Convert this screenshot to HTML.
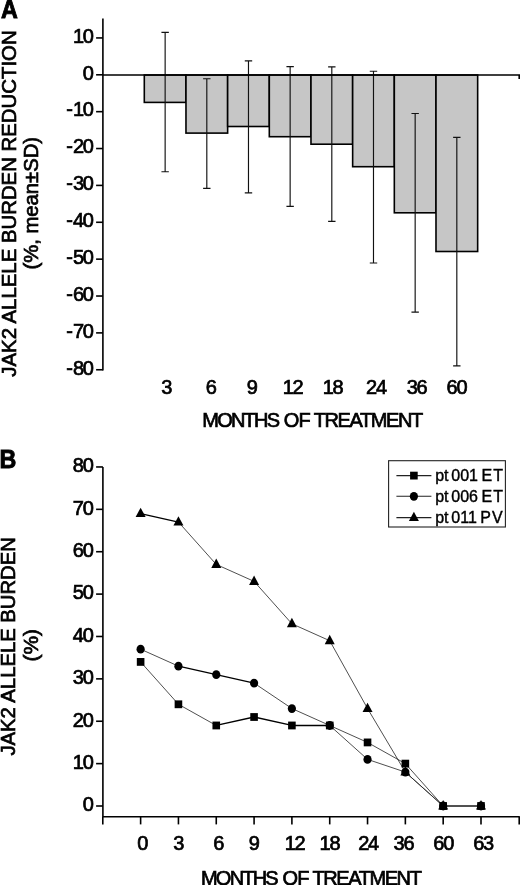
<!DOCTYPE html>
<html><head><meta charset="utf-8"><style>
html,body{margin:0;padding:0;background:#fff;}
svg{display:block;will-change:transform;transform:translateZ(0)}
text{font-family:"Liberation Sans",sans-serif;fill:#000;font-size:20px;stroke:#000;stroke-width:0.7px}
.n{letter-spacing:-1.2px}
.h{letter-spacing:0}
.lg{font-size:16px;word-spacing:-1.7px;stroke-width:0.4px}
.big{font-size:26.5px;font-weight:bold;stroke-width:0.9px}
</style></head><body>
<svg width="520" height="885" viewBox="0 0 520 885">
<rect width="520" height="885" fill="#fff"/>

<text class="big" transform="translate(0.9,17.5) scale(0.88,1)">A</text>
<text class="big" transform="translate(-0.5,467.7) scale(0.88,1)">B</text>
<rect x="144.30" y="75.00" width="41.67" height="27.40" fill="#c6c6c6" stroke="#000" stroke-width="1.6"/>
<rect x="185.97" y="75.00" width="41.67" height="58.10" fill="#c6c6c6" stroke="#000" stroke-width="1.6"/>
<rect x="227.64" y="75.00" width="41.67" height="51.50" fill="#c6c6c6" stroke="#000" stroke-width="1.6"/>
<rect x="269.31" y="75.00" width="41.67" height="61.70" fill="#c6c6c6" stroke="#000" stroke-width="1.6"/>
<rect x="310.98" y="75.00" width="41.67" height="69.20" fill="#c6c6c6" stroke="#000" stroke-width="1.6"/>
<rect x="352.65" y="75.00" width="41.67" height="91.70" fill="#c6c6c6" stroke="#000" stroke-width="1.6"/>
<rect x="394.32" y="75.00" width="41.67" height="137.80" fill="#c6c6c6" stroke="#000" stroke-width="1.6"/>
<rect x="435.99" y="75.00" width="41.67" height="176.50" fill="#c6c6c6" stroke="#000" stroke-width="1.6"/>
<path d="M165.14 32.40V171.70M161.44 32.40h7.4M161.44 171.70h7.4" stroke="#111" stroke-width="1.15" fill="none"/>
<path d="M206.81 78.70V188.40M203.11 78.70h7.4M203.11 188.40h7.4" stroke="#111" stroke-width="1.15" fill="none"/>
<path d="M248.48 60.80V192.90M244.78 60.80h7.4M244.78 192.90h7.4" stroke="#111" stroke-width="1.15" fill="none"/>
<path d="M290.14 66.60V206.30M286.44 66.60h7.4M286.44 206.30h7.4" stroke="#111" stroke-width="1.15" fill="none"/>
<path d="M331.81 66.90V221.40M328.12 66.90h7.4M328.12 221.40h7.4" stroke="#111" stroke-width="1.15" fill="none"/>
<path d="M373.49 71.20V263.00M369.79 71.20h7.4M369.79 263.00h7.4" stroke="#111" stroke-width="1.15" fill="none"/>
<path d="M415.16 113.50V312.10M411.46 113.50h7.4M411.46 312.10h7.4" stroke="#111" stroke-width="1.15" fill="none"/>
<path d="M456.82 137.30V365.80M453.12 137.30h7.4M453.12 365.80h7.4" stroke="#111" stroke-width="1.15" fill="none"/>
<path d="M102.9 18.6V370.4M102.9 75.00H519.2v4" stroke="#000" stroke-width="1.6" fill="none"/>
<path d="M96.1 369.76H102.9" stroke="#000" stroke-width="1.6"/>
<text class="n" x="92.8" y="374.56" text-anchor="end"><tspan class="h">-</tspan>80</text>
<path d="M96.1 332.89H102.9" stroke="#000" stroke-width="1.6"/>
<text class="n" x="92.8" y="337.69" text-anchor="end"><tspan class="h">-</tspan>70</text>
<path d="M96.1 296.02H102.9" stroke="#000" stroke-width="1.6"/>
<text class="n" x="92.8" y="300.82" text-anchor="end"><tspan class="h">-</tspan>60</text>
<path d="M96.1 259.15H102.9" stroke="#000" stroke-width="1.6"/>
<text class="n" x="92.8" y="263.95" text-anchor="end"><tspan class="h">-</tspan>50</text>
<path d="M96.1 222.28H102.9" stroke="#000" stroke-width="1.6"/>
<text class="n" x="92.8" y="227.08" text-anchor="end"><tspan class="h">-</tspan>40</text>
<path d="M96.1 185.41H102.9" stroke="#000" stroke-width="1.6"/>
<text class="n" x="92.8" y="190.21" text-anchor="end"><tspan class="h">-</tspan>30</text>
<path d="M96.1 148.54H102.9" stroke="#000" stroke-width="1.6"/>
<text class="n" x="92.8" y="153.34" text-anchor="end"><tspan class="h">-</tspan>20</text>
<path d="M96.1 111.67H102.9" stroke="#000" stroke-width="1.6"/>
<text class="n" x="92.8" y="116.47" text-anchor="end"><tspan class="h">-</tspan>10</text>
<path d="M96.1 74.80H102.9" stroke="#000" stroke-width="1.6"/>
<text class="n" x="92.8" y="79.60" text-anchor="end">0</text>
<path d="M96.1 37.93H102.9" stroke="#000" stroke-width="1.6"/>
<text class="n" x="92.8" y="42.73" text-anchor="end">10</text>
<text class="n" x="166.20" y="393.8" text-anchor="middle">3</text>
<text class="n" x="210.60" y="393.8" text-anchor="middle">6</text>
<text class="n" x="251.60" y="393.8" text-anchor="middle">9</text>
<text class="n" x="292.60" y="393.8" text-anchor="middle">12</text>
<text class="n" x="332.60" y="393.8" text-anchor="middle">18</text>
<text class="n" x="376.00" y="393.8" text-anchor="middle">24</text>
<text class="n" x="416.60" y="393.8" text-anchor="middle">36</text>
<text class="n" x="456.40" y="393.8" text-anchor="middle">60</text>
<text x="202.30" y="426.5" textLength="77.7" lengthAdjust="spacing">MONTHS</text>
<text x="283.80" y="426.5" textLength="26.9" lengthAdjust="spacing">OF</text>
<text x="313.75" y="426.5" textLength="109.4" lengthAdjust="spacing">TREATMENT</text>
<text transform="translate(15.8,376.7) rotate(-90)" textLength="346.3" lengthAdjust="spacingAndGlyphs">JAK2 ALLELE BURDEN REDUCTION</text>
<text transform="translate(38.3,269.6) rotate(-90)" textLength="132.7" lengthAdjust="spacingAndGlyphs">(%, mean±SD)</text>
<path d="M102.9 466.9V816.7M102.1 816.7H519.8" stroke="#000" stroke-width="1.6" fill="none"/>
<path d="M96.1 806.00H102.9" stroke="#000" stroke-width="1.6"/>
<text class="n" x="92.6" y="811.30" text-anchor="end">0</text>
<path d="M96.1 763.62H102.9" stroke="#000" stroke-width="1.6"/>
<text class="n" x="92.6" y="768.92" text-anchor="end">10</text>
<path d="M96.1 721.24H102.9" stroke="#000" stroke-width="1.6"/>
<text class="n" x="92.6" y="726.54" text-anchor="end">20</text>
<path d="M96.1 678.86H102.9" stroke="#000" stroke-width="1.6"/>
<text class="n" x="92.6" y="684.16" text-anchor="end">30</text>
<path d="M96.1 636.48H102.9" stroke="#000" stroke-width="1.6"/>
<text class="n" x="92.6" y="641.78" text-anchor="end">40</text>
<path d="M96.1 594.10H102.9" stroke="#000" stroke-width="1.6"/>
<text class="n" x="92.6" y="599.40" text-anchor="end">50</text>
<path d="M96.1 551.72H102.9" stroke="#000" stroke-width="1.6"/>
<text class="n" x="92.6" y="557.02" text-anchor="end">60</text>
<path d="M96.1 509.34H102.9" stroke="#000" stroke-width="1.6"/>
<text class="n" x="92.6" y="514.64" text-anchor="end">70</text>
<path d="M96.1 466.96H102.9" stroke="#000" stroke-width="1.6"/>
<text class="n" x="92.6" y="472.26" text-anchor="end">80</text>
<path d="M102.80 816.7V824.4" stroke="#000" stroke-width="1.6"/>
<path d="M140.62 816.7V824.4" stroke="#000" stroke-width="1.6"/>
<path d="M178.44 816.7V824.4" stroke="#000" stroke-width="1.6"/>
<path d="M216.26 816.7V824.4" stroke="#000" stroke-width="1.6"/>
<path d="M254.08 816.7V824.4" stroke="#000" stroke-width="1.6"/>
<path d="M291.90 816.7V824.4" stroke="#000" stroke-width="1.6"/>
<path d="M329.72 816.7V824.4" stroke="#000" stroke-width="1.6"/>
<path d="M367.54 816.7V824.4" stroke="#000" stroke-width="1.6"/>
<path d="M405.36 816.7V824.4" stroke="#000" stroke-width="1.6"/>
<path d="M443.18 816.7V824.4" stroke="#000" stroke-width="1.6"/>
<path d="M481.00 816.7V824.4" stroke="#000" stroke-width="1.6"/>
<path d="M519.20 816.7V824.4" stroke="#000" stroke-width="1.6"/>
<text class="n" x="142.30" y="850.2" text-anchor="middle">0</text>
<text class="n" x="178.30" y="850.2" text-anchor="middle">3</text>
<text class="n" x="218.20" y="850.2" text-anchor="middle">6</text>
<text class="n" x="253.70" y="850.2" text-anchor="middle">9</text>
<text class="n" x="294.60" y="850.2" text-anchor="middle">12</text>
<text class="n" x="329.40" y="850.2" text-anchor="middle">18</text>
<text class="n" x="368.10" y="850.2" text-anchor="middle">24</text>
<text class="n" x="403.50" y="850.2" text-anchor="middle">36</text>
<text class="n" x="443.20" y="850.2" text-anchor="middle">60</text>
<text class="n" x="483.10" y="850.2" text-anchor="middle">63</text>
<text x="201.00" y="885" textLength="77.7" lengthAdjust="spacing">MONTHS</text>
<text x="282.50" y="885" textLength="26.9" lengthAdjust="spacing">OF</text>
<text x="312.45" y="885" textLength="109.4" lengthAdjust="spacing">TREATMENT</text>
<text transform="translate(15.4,755.6) rotate(-90)" textLength="218.5" lengthAdjust="spacingAndGlyphs">JAK2 ALLELE BURDEN</text>
<text transform="translate(38,661.6) rotate(-90)" textLength="32.6" lengthAdjust="spacingAndGlyphs">(%)</text>
<path d="M140.62 661.91L178.44 704.29" stroke="#222" stroke-width="0.8"/>
<path d="M178.44 704.29L216.26 725.48" stroke="#222" stroke-width="0.8"/>
<path d="M216.26 725.48L254.08 717.00" stroke="#000" stroke-width="1.3"/>
<path d="M254.08 717.00L291.90 725.48" stroke="#000" stroke-width="1.3"/>
<path d="M291.90 725.48L329.72 725.48" stroke="#000" stroke-width="1.3"/>
<path d="M329.72 725.48L367.54 742.43" stroke="#222" stroke-width="0.8"/>
<path d="M367.54 742.43L405.36 763.62" stroke="#222" stroke-width="0.8"/>
<path d="M405.36 763.62L443.18 806.00" stroke="#222" stroke-width="0.8"/>
<path d="M443.18 806.00L481.00 806.00" stroke="#222" stroke-width="0.8"/>
<path d="M140.62 649.19L178.44 666.15" stroke="#222" stroke-width="0.8"/>
<path d="M178.44 666.15L216.26 674.62" stroke="#000" stroke-width="1.3"/>
<path d="M216.26 674.62L254.08 683.10" stroke="#000" stroke-width="1.3"/>
<path d="M254.08 683.10L291.90 708.53" stroke="#222" stroke-width="0.8"/>
<path d="M291.90 708.53L329.72 725.48" stroke="#222" stroke-width="0.8"/>
<path d="M329.72 725.48L367.54 759.38" stroke="#222" stroke-width="0.8"/>
<path d="M367.54 759.38L405.36 772.10" stroke="#222" stroke-width="0.8"/>
<path d="M405.36 772.10L443.18 806.00" stroke="#222" stroke-width="0.8"/>
<path d="M443.18 806.00L481.00 806.00" stroke="#222" stroke-width="0.8"/>
<path d="M140.62 513.58L178.44 522.05" stroke="#000" stroke-width="1.3"/>
<path d="M178.44 522.05L216.26 564.43" stroke="#222" stroke-width="0.8"/>
<path d="M216.26 564.43L254.08 581.39" stroke="#222" stroke-width="0.8"/>
<path d="M254.08 581.39L291.90 623.77" stroke="#222" stroke-width="0.8"/>
<path d="M291.90 623.77L329.72 640.72" stroke="#222" stroke-width="0.8"/>
<path d="M329.72 640.72L367.54 708.53" stroke="#222" stroke-width="0.8"/>
<path d="M367.54 708.53L405.36 772.10" stroke="#222" stroke-width="0.8"/>
<path d="M405.36 772.10L443.18 806.00" stroke="#222" stroke-width="0.8"/>
<path d="M443.18 806.00L481.00 806.00" stroke="#222" stroke-width="0.8"/>
<rect x="136.82" y="658.01" width="7.6" height="7.8" fill="#000"/>
<rect x="174.64" y="700.39" width="7.6" height="7.8" fill="#000"/>
<rect x="212.46" y="721.58" width="7.6" height="7.8" fill="#000"/>
<rect x="250.28" y="713.10" width="7.6" height="7.8" fill="#000"/>
<rect x="288.10" y="721.58" width="7.6" height="7.8" fill="#000"/>
<rect x="325.92" y="721.58" width="7.6" height="7.8" fill="#000"/>
<rect x="363.74" y="738.53" width="7.6" height="7.8" fill="#000"/>
<rect x="401.56" y="759.72" width="7.6" height="7.8" fill="#000"/>
<rect x="439.38" y="802.10" width="7.6" height="7.8" fill="#000"/>
<rect x="477.20" y="802.10" width="7.6" height="7.8" fill="#000"/>
<ellipse cx="140.62" cy="649.19" rx="4.1" ry="4.4" fill="#000"/>
<ellipse cx="178.44" cy="666.15" rx="4.1" ry="4.4" fill="#000"/>
<ellipse cx="216.26" cy="674.62" rx="4.1" ry="4.4" fill="#000"/>
<ellipse cx="254.08" cy="683.10" rx="4.1" ry="4.4" fill="#000"/>
<ellipse cx="291.90" cy="708.53" rx="4.1" ry="4.4" fill="#000"/>
<ellipse cx="329.72" cy="725.48" rx="4.1" ry="4.4" fill="#000"/>
<ellipse cx="367.54" cy="759.38" rx="4.1" ry="4.4" fill="#000"/>
<ellipse cx="405.36" cy="772.10" rx="4.1" ry="4.4" fill="#000"/>
<ellipse cx="443.18" cy="806.00" rx="4.1" ry="4.4" fill="#000"/>
<ellipse cx="481.00" cy="806.00" rx="4.1" ry="4.4" fill="#000"/>
<path d="M140.62 507.68L145.62 517.08H135.62Z" fill="#000"/>
<path d="M178.44 516.15L183.44 525.55H173.44Z" fill="#000"/>
<path d="M216.26 558.53L221.26 567.93H211.26Z" fill="#000"/>
<path d="M254.08 575.49L259.08 584.89H249.08Z" fill="#000"/>
<path d="M291.90 617.87L296.90 627.27H286.90Z" fill="#000"/>
<path d="M329.72 634.82L334.72 644.22H324.72Z" fill="#000"/>
<path d="M367.54 702.63L372.54 712.03H362.54Z" fill="#000"/>
<path d="M405.36 766.20L410.36 775.60H400.36Z" fill="#000"/>
<path d="M443.18 800.10L448.18 809.50H438.18Z" fill="#000"/>
<path d="M481.00 800.10L486.00 809.50H476.00Z" fill="#000"/>
<rect x="388.6" y="460.7" width="116.8" height="66.3" fill="#fff" stroke="#222" stroke-width="1.1"/>
<path d="M396.4 475.6H431.4" stroke="#222" stroke-width="1.05"/>
<rect x="410.10" y="471.70" width="7.6" height="7.8" fill="#000"/>
<text class="lg" x="435.2" y="481.0">pt 001 <tspan dx="0.8">E</tspan><tspan dx="1.1">T</tspan></text>
<path d="M396.4 496.3H431.4" stroke="#222" stroke-width="1.05"/>
<ellipse cx="413.90" cy="496.30" rx="4.1" ry="4.4" fill="#000"/>
<text class="lg" x="435.2" y="502.20000000000005">pt 006 <tspan dx="0.8">E</tspan><tspan dx="1.1">T</tspan></text>
<path d="M396.4 517.6H431.4" stroke="#222" stroke-width="1.05"/>
<path d="M413.90 511.70L418.90 521.10H408.90Z" fill="#000"/>
<text class="lg" x="435.2" y="523.3000000000001">pt 011 <tspan dx="0.8">P</tspan><tspan dx="1.1">V</tspan></text>
</svg></body></html>
